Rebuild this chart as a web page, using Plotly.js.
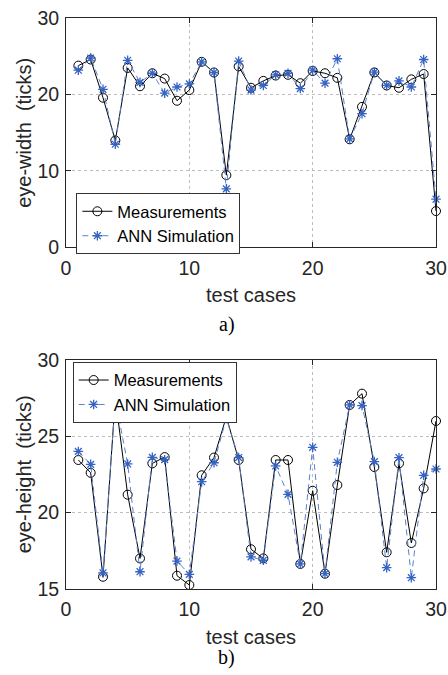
<!DOCTYPE html>
<html>
<head>
<meta charset="utf-8">
<script src="https://cdn.plot.ly/plotly-3.0.1.min.js"></script>
<style>html,body{margin:0;padding:0;background:#fff;}#chart{width:448px;height:675px;}</style>
</head>
<body>
<div id="chart"></div>
<script>
// test case indices
const testCases = [1,2,3,4,5,6,7,8,9,10,11,12,13,14,15,16,17,18,19,20,21,22,23,24,25,26,27,28,29,30];

// a) eye-width (ticks)
const widthMeasured = [23.8,24.6,19.6,14.0,23.5,21.1,22.8,22.1,19.2,20.6,24.3,22.9,9.45,23.7,20.9,21.8,22.5,22.6,21.5,23.1,22.8,22.2,14.15,18.4,22.9,21.2,20.9,22.0,22.7,4.75];
const widthANN      = [23.2,24.8,20.7,13.5,24.5,21.6,22.8,20.2,21.0,21.4,24.3,22.9,7.66,24.4,20.6,21.2,22.6,22.8,20.8,23.2,21.5,24.7,14.2,17.5,22.95,21.2,21.8,21.0,24.6,6.3];

// b) eye-height (ticks)
const heightMeasured = [23.44,22.6,15.8,27.5,21.17,17.0,23.22,23.63,15.87,15.26,22.44,23.6,26.27,23.44,17.6,17.0,23.44,23.44,16.64,21.43,16.0,21.8,27.04,27.78,22.98,17.4,23.22,18.01,21.58,25.99];
const heightANN      = [24.0,23.15,16.05,27.4,23.18,16.13,23.61,23.46,16.83,15.96,22.02,23.26,26.16,23.6,17.1,16.88,23.05,21.19,16.64,24.27,16.0,23.29,27.04,27.0,23.33,16.4,23.59,15.74,22.44,22.85];

const xTicks = [0,10,20,30];
const txt = '#262626';
const blue = '#3563c2';
const sans = 'Liberation Sans, Arial, sans-serif';

function measTrace(y, xa, ya, lg){
  return {x:testCases, y:y, xaxis:xa, yaxis:ya, legend:lg, name:'Measurements',
    type:'scatter', mode:'lines+markers', cliponaxis:false,
    line:{color:'#000', width:1},
    marker:{symbol:'circle-open', size:9, color:'#000', line:{width:1, color:'#000'}}};
}
function annTrace(y, xa, ya, lg){
  return {x:testCases, y:y, xaxis:xa, yaxis:ya, legend:lg, name:'ANN Simulation',
    type:'scatter', mode:'lines+markers', cliponaxis:false,
    line:{color:'#5b80d0', width:1, dash:'6px,4px'},
    marker:{symbol:'asterisk-open', size:8, color:blue, line:{width:1.3, color:blue}}};
}

const data = [
  measTrace(widthMeasured,'x','y','legend'),
  annTrace(widthANN,'x','y','legend'),
  measTrace(heightMeasured,'x2','y2','legend2'),
  annTrace(heightANN,'x2','y2','legend2')
];

function xax(anchor){
  return {anchor:anchor, domain:[0,1], range:[0,30], tickvals:xTicks, ticktext:xTicks.map(String),
    ticks:'inside', ticklen:5, tickcolor:txt, showline:true, linecolor:txt, linewidth:1, mirror:'ticks',
    showgrid:true, gridcolor:'#bdbdbd', griddash:'dot', gridwidth:1, zeroline:false,
    ticklabelstandoff:3,
    tickfont:{family:sans, size:19.5, color:txt},
    title:{text:'test cases', font:{family:sans, size:20, color:txt}, standoff:10}};
}
function yax(anchor, dom, range, dtick, title){
  return {anchor:anchor, domain:dom, range:range, dtick:dtick, tick0:0,
    ticks:'inside', ticklen:5, tickcolor:txt, showline:true, linecolor:txt, linewidth:1, mirror:'ticks',
    showgrid:true, gridcolor:'#bdbdbd', griddash:'dot', gridwidth:1, zeroline:false,
    ticklabelstandoff:2,
    tickfont:{family:sans, size:19.5, color:txt},
    title:{text:title, font:{family:sans, size:20, color:txt}, standoff:0}};
}

const legendStyle = {bgcolor:'#fff', bordercolor:'#333', borderwidth:1,
  font:{family:sans, size:16.5, color:'#000'},
  xanchor:'left', yanchor:'top', tracegroupgap:0, itemwidth:30};

const layout = {
  width:448, height:675,
  margin:{l:66, r:12, t:0, b:0},
  paper_bgcolor:'#fff', plot_bgcolor:'#fff',
  showlegend:true,
  xaxis: xax('y'),
  yaxis: yax('x',[0.6336,0.9729],[0,30],10,'eye-width\u00a0 (ticks)'),
  xaxis2: xax('y2'),
  yaxis2: yax('x2',[0.1274,0.4671],[15,30],5,'eye-height\u00a0 (ticks)'),
  legend: Object.assign({x:0.028, y:0.714}, legendStyle),
  legend2: Object.assign({x:0.018, y:0.464}, legendStyle),
  annotations:[
    {text:'a)', xref:'paper', yref:'paper', x:0.435, y:1-325/675, xanchor:'center', yanchor:'middle', showarrow:false,
     font:{family:'Liberation Serif, Times New Roman, serif', size:20, color:'#000'}},
    {text:'b)', xref:'paper', yref:'paper', x:0.435, y:1-657/675, xanchor:'center', yanchor:'middle', showarrow:false,
     font:{family:'Liberation Serif, Times New Roman, serif', size:20, color:'#000'}}
  ]
};

Plotly.newPlot('chart', data, layout, {displayModeBar:false, staticPlot:true});
</script>
</body>
</html>
